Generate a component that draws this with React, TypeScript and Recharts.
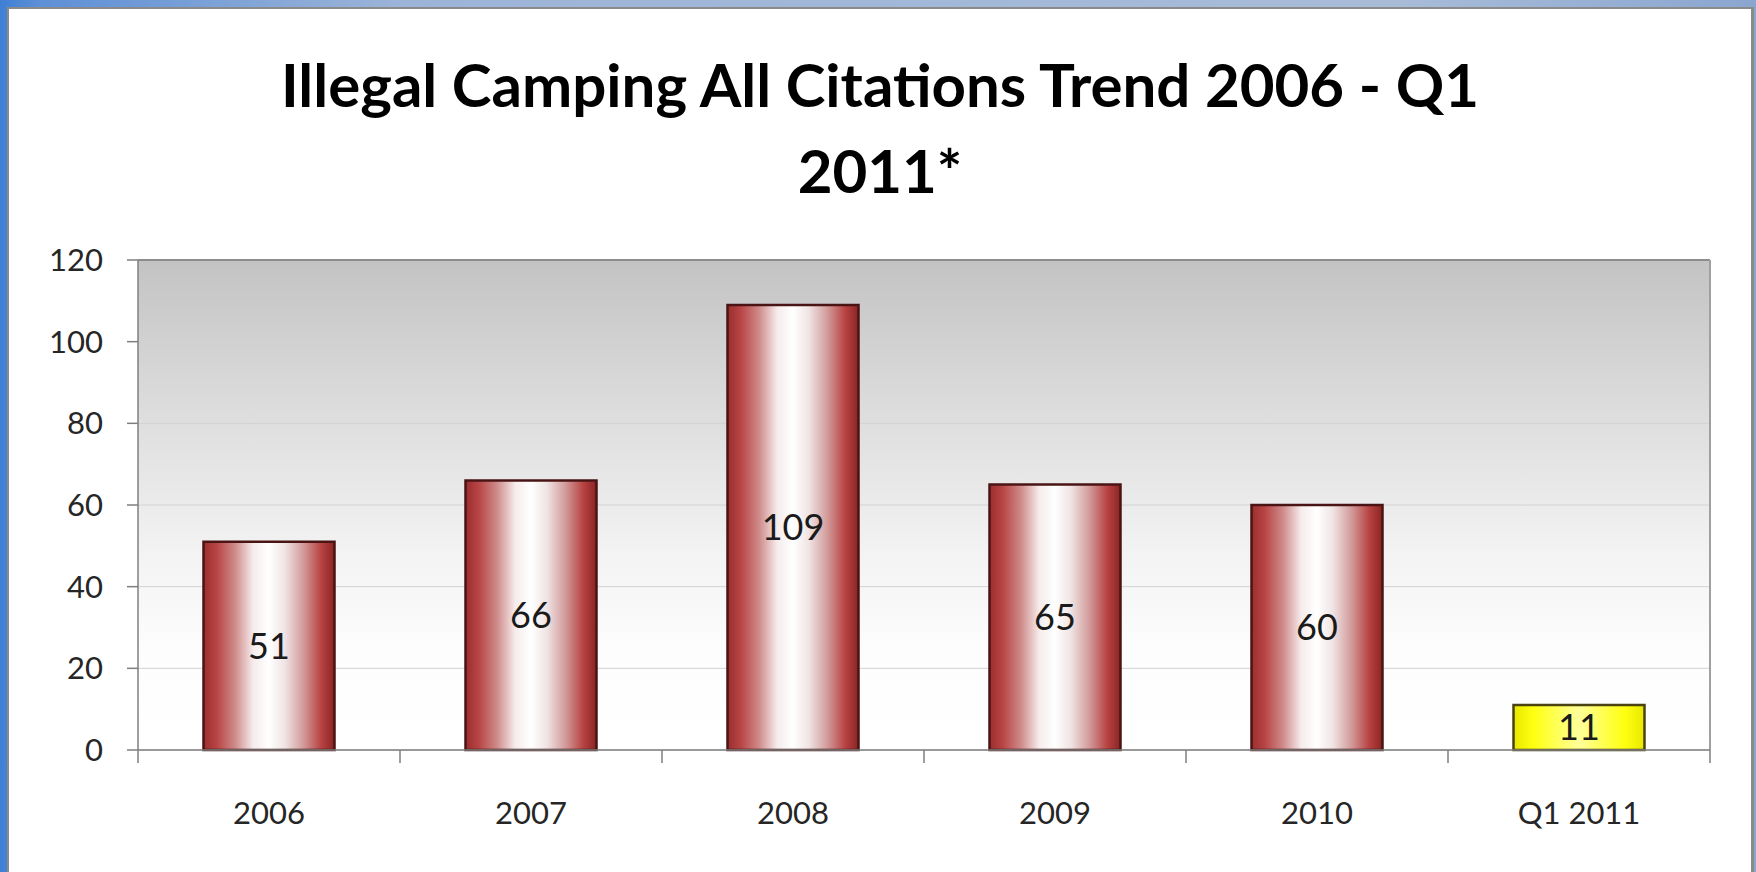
import React from 'react';
import {
  BarChart,
  Bar,
  XAxis,
  YAxis,
  CartesianGrid,
  Cell,
  LabelList,
  ReferenceLine,
} from 'recharts';

const titleLines = ['Illegal Camping All Citations Trend 2006 - Q1', '2011*'];
const categories = ['2006', '2007', '2008', '2009', '2010', 'Q1 2011'];
const citations = [51, 66, 109, 65, 60, 11];
const partialYear = [false, false, false, false, false, true];
const yTicks = [0, 20, 40, 60, 80, 100, 120];

const data = categories.map((category, i) => ({
  category,
  citations: citations[i],
  pos: i + 0.5,
}));

const boundaryTicks = [...categories.map((_, i) => i), categories.length];
const centerTicks = categories.map((_, i) => i + 0.5);
const xTicks = [...boundaryTicks, ...centerTicks].sort((a, b) => a - b);

const FONT = 'Lato, "Open Sans", sans-serif';
const AXIS = '#7f7f7f';

function XTick(props: any) {
  const { x, y, payload } = props;
  const v = payload.value as number;
  if (Number.isInteger(v)) {
    return <line x1={x} y1={y} x2={x} y2={y + 13} stroke={AXIS} strokeWidth={1.5} />;
  }
  return (
    <text
      x={x}
      y={y + 74}
      textAnchor="middle"
      fontFamily={FONT}
      fontSize={31}
      fill="#262626"
    >
      {categories[Math.floor(v)]}
    </text>
  );
}

export default function App() {
  return (
    <div
      style={{
        position: 'fixed',
        left: 0,
        top: 0,
        width: 1756,
        height: 872,
        overflow: 'hidden',
        background:
          'linear-gradient(90deg, #3f7fd4 0px, #5e90d6 40px, #9cb4d8 400px, #a8bcd8 1400px, #8aa6d0 1756px)',
      }}
    >
      <div
        style={{
          position: 'absolute',
          left: 7,
          top: 7,
          width: 1742,
          height: 880,
          background: '#ffffff',
          borderLeft: '2px solid #8a8a8a',
          borderTop: '2px solid #8a8a8a',
          borderRight: '3px solid #8a8a8a',
        }}
      />
      <div style={{ position: 'absolute', left: 0, top: 0 }}>
        <BarChart
          width={1756}
          height={872}
          data={data}
          margin={{ top: 260, right: 46, bottom: 62, left: 38 }}
          barCategoryGap="25%"
        >
          <defs>
            <linearGradient id="plotBg" x1="0" y1="0" x2="0" y2="1">
              <stop offset="0%" stopColor="#c3c3c3" />
              <stop offset="30%" stopColor="#dcdcdc" />
              <stop offset="60%" stopColor="#f3f3f3" />
              <stop offset="80%" stopColor="#fdfdfd" />
              <stop offset="100%" stopColor="#ffffff" />
            </linearGradient>
            <linearGradient id="redBar" x1="0" y1="0" x2="1" y2="0">
              <stop offset="0%" stopColor="#9a2e2e" />
              <stop offset="10%" stopColor="#b84444" />
              <stop offset="24%" stopColor="#cf8a8a" />
              <stop offset="38%" stopColor="#f6ecec" />
              <stop offset="50%" stopColor="#ffffff" />
              <stop offset="62%" stopColor="#f0e4e4" />
              <stop offset="76%" stopColor="#d39c9c" />
              <stop offset="90%" stopColor="#b84242" />
              <stop offset="100%" stopColor="#8a2424" />
            </linearGradient>
            <linearGradient id="yellowBar" x1="0" y1="0" x2="1" y2="0">
              <stop offset="0%" stopColor="#e8e800" />
              <stop offset="15%" stopColor="#ffff10" />
              <stop offset="50%" stopColor="#ffff9a" />
              <stop offset="85%" stopColor="#ffff10" />
              <stop offset="100%" stopColor="#e8e800" />
            </linearGradient>
          </defs>
          <CartesianGrid
            xAxisId="pos"
            vertical={false}
            stroke="#d2d2d2"
            strokeWidth={1}
            fill="url(#plotBg)"
            fillOpacity={1}
          />
          <XAxis
            xAxisId="pos"
            type="number"
            dataKey="pos"
            domain={[0, categories.length]}
            ticks={xTicks}
            interval={0}
            allowDataOverflow
            tickLine={false}
            tickSize={0}
            tickMargin={0}
            height={60}
            axisLine={{ stroke: AXIS, strokeWidth: 1.5 }}
            tick={<XTick />}
          />
          <XAxis xAxisId="cat" dataKey="category" hide height={0} />
          <YAxis
            domain={[0, 120]}
            ticks={yTicks}
            interval={0}
            width={100}
            tickSize={11}
            tickMargin={24}
            axisLine={{ stroke: AXIS, strokeWidth: 1.5 }}
            tickLine={{ stroke: AXIS, strokeWidth: 1.5 }}
            tick={{ fontFamily: FONT, fontSize: 31, fill: '#262626' }}
          />
          <ReferenceLine y={120} xAxisId="pos" stroke="#8c8c8c" strokeWidth={2} />
          <ReferenceLine x={categories.length} xAxisId="pos" stroke="#a0a0a0" strokeWidth={2} />
          <Bar xAxisId="cat" dataKey="citations" isAnimationActive={false}>
            {data.map((d, i) => (
              <Cell
                key={d.category}
                fill={partialYear[i] ? 'url(#yellowBar)' : 'url(#redBar)'}
                stroke={partialYear[i] ? '#4a4210' : '#4a1414'}
                strokeWidth={2.5}
              />
            ))}
            <LabelList
              dataKey="citations"
              position="center"
              fontFamily={FONT}
              fontSize={36}
              fill="#1a1a1a"
            />
          </Bar>
        </BarChart>
      </div>
      <svg
        width={1756}
        height={250}
        style={{ position: 'absolute', left: 0, top: 0, pointerEvents: 'none' }}
      >
        {titleLines.map((line, i) => (
          <text
            key={i}
            x={880}
            y={107 + i * 86}
            textAnchor="middle"
            fontFamily={FONT}
            fontWeight={700}
            fontSize={60}
            fill="#000000"
          >
            {line}
          </text>
        ))}
      </svg>
    </div>
  );
}
